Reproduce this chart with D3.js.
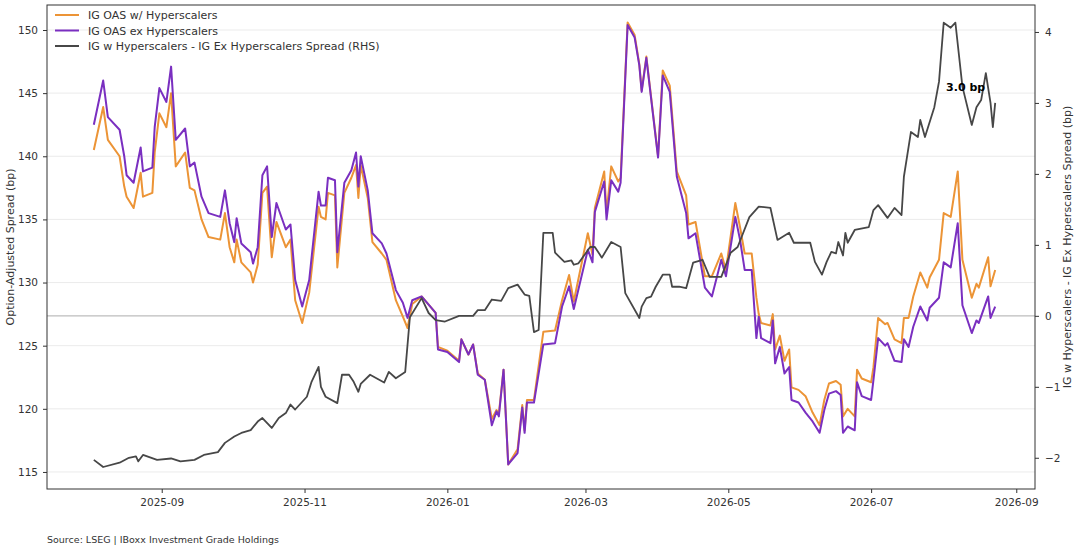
<!DOCTYPE html>
<html>
<head>
<meta charset="utf-8">
<script src="https://cdn.jsdelivr.net/npm/d3@7"></script>
<style>
  body { margin: 0; background: #fff; font-family: "DejaVu Sans", sans-serif; }
  text { font-family: "DejaVu Sans", sans-serif; }
</style>
</head>
<body>
<script>
// IG OAS with / ex hyperscalers (left axis, bp)
let oasDates = ["2025-08-03","2025-08-07","2025-08-09","2025-08-14","2025-08-16","2025-08-17","2025-08-20","2025-08-23","2025-08-24","2025-08-28","2025-08-29","2025-08-31",
  "2025-09-03","2025-09-05","2025-09-07","2025-09-11","2025-09-13","2025-09-15","2025-09-18","2025-09-21","2025-09-26","2025-09-28","2025-09-30",
  "2025-10-02","2025-10-03","2025-10-05","2025-10-09","2025-10-10","2025-10-12","2025-10-14","2025-10-16","2025-10-18","2025-10-20","2025-10-24","2025-10-26","2025-10-28","2025-10-31",
  "2025-11-03","2025-11-07","2025-11-08","2025-11-10","2025-11-11","2025-11-14","2025-11-15","2025-11-18","2025-11-21","2025-11-23","2025-11-24","2025-11-25","2025-11-28","2025-11-30",
  "2025-12-04","2025-12-06","2025-12-10","2025-12-13","2025-12-15","2025-12-17","2025-12-21","2025-12-27","2025-12-28",
  "2026-01-01","2026-01-06","2026-01-07","2026-01-10","2026-01-12","2026-01-14","2026-01-17","2026-01-20","2026-01-22","2026-01-23","2026-01-25","2026-01-27","2026-01-31",
  "2026-02-02","2026-02-03","2026-02-04","2026-02-07","2026-02-11","2026-02-16","2026-02-19","2026-02-22","2026-02-24",
  "2026-03-02","2026-03-04","2026-03-05","2026-03-09","2026-03-10","2026-03-12","2026-03-15","2026-03-16","2026-03-19","2026-03-22","2026-03-24","2026-03-25","2026-03-27",
  "2026-04-01","2026-04-03","2026-04-06","2026-04-09","2026-04-13","2026-04-14","2026-04-17","2026-04-21","2026-04-24","2026-04-28","2026-04-30",
  "2026-05-04","2026-05-06","2026-05-08","2026-05-11","2026-05-13","2026-05-14","2026-05-15","2026-05-19","2026-05-20","2026-05-21","2026-05-23","2026-05-25","2026-05-27","2026-05-28","2026-05-31",
  "2026-06-03","2026-06-06","2026-06-09","2026-06-11","2026-06-13","2026-06-16","2026-06-18","2026-06-19","2026-06-21","2026-06-24","2026-06-25","2026-06-27",
  "2026-07-01","2026-07-02","2026-07-04","2026-07-07","2026-07-08","2026-07-11","2026-07-14","2026-07-15","2026-07-17","2026-07-19","2026-07-22","2026-07-25","2026-07-26","2026-07-30",
  "2026-08-01","2026-08-04","2026-08-07","2026-08-09","2026-08-13","2026-08-15","2026-08-16","2026-08-20","2026-08-21","2026-08-23"];

let oasEx = [142.5,146.0,143.1,142.1,140.0,138.5,137.9,140.7,138.8,139.1,142.3,145.4,
  144.3,147.1,141.3,142.2,139.2,139.5,136.8,135.5,135.2,137.3,134.7,
  133.2,135.1,133.1,132.4,131.5,132.8,138.5,139.2,133.6,136.3,134.2,134.6,130.2,128.1,
  130.2,137.2,136.1,136.1,138.3,138.1,132.4,137.9,138.9,140.3,137.6,140.0,137.3,133.9,
  133.1,132.3,129.4,128.4,127.2,128.6,128.9,127.6,124.7,
  124.5,123.7,125.5,124.3,125.1,122.7,122.3,118.7,119.8,119.4,123.1,115.6,116.5,
  120.1,118.1,120.5,120.5,125.1,125.2,128.1,129.7,127.9,
  132.6,131.6,135.6,138.0,135.0,138.1,137.2,137.9,150.4,149.4,147.2,145.1,147.8,
  139.9,146.4,145.1,138.4,135.5,133.5,133.9,129.6,128.9,131.8,130.5,
  135.2,133.4,131.0,131.0,125.6,127.3,125.6,125.2,127.0,123.6,124.9,122.8,123.3,120.7,120.5,
  119.7,119.0,118.1,119.9,121.2,121.4,121.1,118.1,118.6,118.3,122.1,121.0,
  120.7,122.3,125.6,125.0,125.2,123.8,123.7,125.5,124.9,126.5,128.1,127.0,128.0,128.8,
  131.6,131.2,134.7,128.2,126.0,127.0,126.8,128.9,127.2,128.1];

let oasWith = [140.5,143.9,141.3,140.0,137.6,136.8,135.9,138.7,136.8,137.1,140.3,143.4,
  142.3,145.0,139.2,140.3,137.5,137.3,135.0,133.6,133.4,135.5,132.8,
  131.6,133.4,131.6,130.8,130.0,131.4,137.1,137.6,132.0,134.8,132.8,133.4,128.6,126.8,
  129.2,136.0,135.2,135.0,137.1,136.9,131.2,137.1,138.3,139.3,136.7,139.3,136.7,133.2,
  132.3,131.8,128.6,127.3,126.4,128.3,128.9,127.6,124.9,
  124.6,123.8,125.5,124.3,125.1,122.8,122.3,119.2,119.9,119.6,123.1,115.6,116.8,
  120.3,118.3,120.7,120.7,126.1,126.2,128.6,130.6,128.5,
  133.9,132.2,135.9,138.8,135.5,139.2,138.0,138.3,150.6,149.6,147.3,145.2,147.9,
  140.0,146.8,145.6,138.8,136.9,134.6,134.8,130.5,130.5,132.3,131.0,
  136.3,134.4,132.3,132.3,128.8,127.5,126.8,126.6,127.5,124.7,125.8,123.8,124.7,121.7,121.5,
  121.0,119.7,118.7,120.7,122.0,122.2,121.9,119.4,120.0,119.4,123.1,122.4,
  122.1,123.3,127.2,126.7,126.8,125.5,125.2,127.2,127.2,128.9,130.8,129.6,130.4,131.8,
  135.5,135.2,138.8,131.8,128.8,129.9,129.6,132.0,129.7,131.0];

// Difference series (right axis, bp)
let diffDates = ["2025-08-03","2025-08-07","2025-08-14","2025-08-18","2025-08-21","2025-08-22","2025-08-24","2025-08-30",
  "2025-09-05","2025-09-09","2025-09-15","2025-09-19","2025-09-25","2025-09-28",
  "2025-10-02","2025-10-05","2025-10-09","2025-10-12","2025-10-14","2025-10-18","2025-10-21","2025-10-24","2025-10-26","2025-10-28",
  "2025-11-02","2025-11-04","2025-11-07","2025-11-08","2025-11-10","2025-11-15","2025-11-17","2025-11-20","2025-11-22","2025-11-24","2025-11-25","2025-11-29",
  "2025-12-05","2025-12-07","2025-12-10","2025-12-14","2025-12-16","2025-12-21","2025-12-24","2025-12-27","2025-12-31",
  "2026-01-06","2026-01-12","2026-01-14","2026-01-17","2026-01-20","2026-01-24","2026-01-27","2026-01-31",
  "2026-02-03","2026-02-05","2026-02-07","2026-02-09","2026-02-11","2026-02-15","2026-02-16","2026-02-20","2026-02-23","2026-02-24","2026-02-26",
  "2026-03-03","2026-03-05","2026-03-08","2026-03-12","2026-03-16","2026-03-18","2026-03-24","2026-03-25","2026-03-27","2026-03-29","2026-03-31",
  "2026-04-03","2026-04-06","2026-04-07","2026-04-10","2026-04-13","2026-04-16","2026-04-20","2026-04-23","2026-04-28",
  "2026-05-02","2026-05-05","2026-05-10","2026-05-14","2026-05-19","2026-05-22","2026-05-27","2026-05-29",
  "2026-06-05","2026-06-07","2026-06-10","2026-06-12","2026-06-14","2026-06-16","2026-06-17","2026-06-19","2026-06-20","2026-06-21","2026-06-24","2026-06-30",
  "2026-07-02","2026-07-04","2026-07-08","2026-07-11","2026-07-14","2026-07-15","2026-07-18","2026-07-21","2026-07-22","2026-07-24","2026-07-28","2026-07-30",
  "2026-08-01","2026-08-04","2026-08-06","2026-08-09","2026-08-13","2026-08-15","2026-08-17","2026-08-19","2026-08-21","2026-08-22","2026-08-23"];

let diffVals = [-2.03,-2.13,-2.07,-2.0,-1.98,-2.05,-1.96,-2.03,
  -2.01,-2.05,-2.03,-1.96,-1.92,-1.79,
  -1.70,-1.65,-1.61,-1.49,-1.44,-1.58,-1.44,-1.37,-1.25,-1.32,
  -1.14,-0.93,-0.72,-1.0,-1.14,-1.23,-0.83,-0.83,-0.93,-1.07,-0.96,-0.83,
  -0.94,-0.79,-0.88,-0.79,-0.02,0.25,0.04,-0.06,-0.08,
  0.0,0.0,0.08,0.08,0.23,0.21,0.39,0.44,
  0.30,0.28,-0.23,-0.2,1.17,1.17,0.89,0.76,0.78,0.72,0.74,
  0.97,0.97,0.82,1.04,0.97,0.32,-0.03,0.13,0.25,0.27,0.41,
  0.58,0.58,0.41,0.41,0.39,0.75,0.79,0.55,0.55,
  0.89,0.97,1.39,1.54,1.52,1.07,1.17,1.03,
  1.03,0.76,0.58,0.76,0.90,0.88,1.04,0.85,1.17,1.03,1.21,1.25,
  1.49,1.56,1.38,1.52,1.42,1.96,2.59,2.52,2.76,2.52,2.94,3.30,
  4.13,4.06,4.13,3.23,2.69,2.94,3.04,3.42,3.0,2.66,3.0];

let leftTicks = [115, 120, 125, 130, 135, 140, 145, 150];
let rightTicks = [-2, -1, 0, 1, 2, 3, 4];
let xTicks = ["2025-09-01","2025-11-01","2026-01-01","2026-03-01","2026-05-01","2026-07-01","2026-09-01"];
let seriesNames = ["IG OAS w/ Hyperscalers", "IG OAS ex Hyperscalers", "IG w Hyperscalers - IG Ex Hyperscalers Spread (RHS)"];
let colors = ["#ec9436", "#7a2fc0", "#474747"];

let w = 1080, h = 551;
let mLeft = 47, mRight = 1035, mTop = 5, mBottom = 489;
let parse = d3.timeParse("%Y-%m-%d");

let svg = d3.select("body").append("svg").attr("width", w).attr("height", h);

let xScale = d3.scaleTime()
  .domain([parse("2025-07-14"), parse("2026-09-09")])
  .range([mLeft, mRight]);
let yL = d3.scaleLinear().domain([113.65, 151.98]).range([mBottom, mTop]);
let yR = d3.scaleLinear().domain([-2.44, 4.38]).range([mBottom, mTop]);

// grid lines
svg.append("g").selectAll("line").data(leftTicks).enter().append("line")
  .attr("x1", mLeft).attr("x2", mRight)
  .attr("y1", d => yL(d)).attr("y2", d => yL(d))
  .attr("stroke", "#e6e6e6").attr("stroke-width", 0.8);

// zero line on RHS
svg.append("line")
  .attr("x1", mLeft).attr("x2", mRight)
  .attr("y1", yR(0)).attr("y2", yR(0))
  .attr("stroke", "#bdbdbd").attr("stroke-width", 1.2);

let lineL = (dates, vals) => d3.line().x((d, i) => xScale(parse(dates[i]))).y(d => yL(d))(vals);
let lineR = d3.line().x((d, i) => xScale(parse(diffDates[i]))).y(d => yR(d));

svg.append("path").attr("d", lineL(oasDates, oasWith))
  .attr("fill", "none").attr("stroke", colors[0]).attr("stroke-width", 2).attr("stroke-linejoin", "round");
svg.append("path").attr("d", lineL(oasDates, oasEx))
  .attr("fill", "none").attr("stroke", colors[1]).attr("stroke-width", 2).attr("stroke-linejoin", "round");
svg.append("path").attr("d", lineR(diffVals))
  .attr("fill", "none").attr("stroke", colors[2]).attr("stroke-width", 1.8).attr("stroke-linejoin", "round");

// annotation
let lastI = diffVals.length - 1;
svg.append("text")
  .attr("x", xScale(parse(diffDates[lastI])) - 10)
  .attr("y", yR(diffVals[lastI]) - 12)
  .attr("text-anchor", "end")
  .style("font-size", "11px").style("font-weight", "bold")
  .text(diffVals[lastI].toFixed(1) + " bp");

// axes
let xAxis = d3.axisBottom(xScale)
  .tickValues(xTicks.map(parse))
  .tickFormat(d3.timeFormat("%Y-%m")).tickSize(4).tickPadding(6);
let gx = svg.append("g").attr("transform", "translate(0," + mBottom + ")").call(xAxis);

let gl = svg.append("g").attr("transform", "translate(" + mLeft + ",0)")
  .call(d3.axisLeft(yL).tickValues(leftTicks).tickSize(4).tickPadding(5));
let gr = svg.append("g").attr("transform", "translate(" + mRight + ",0)")
  .call(d3.axisRight(yR).tickValues(rightTicks).tickFormat(d3.format("d")).tickSize(4).tickPadding(6));

[gx, gl, gr].forEach(g => {
  g.selectAll("text").style("font-size", "10.5px").attr("fill", "#333");
  g.selectAll("line").attr("stroke", "#333");
  g.select(".domain").remove();
});

// frame
svg.append("rect").attr("x", mLeft).attr("y", mTop)
  .attr("width", mRight - mLeft).attr("height", mBottom - mTop)
  .attr("fill", "none").attr("stroke", "#333").attr("stroke-width", 1);

// axis titles
svg.append("text")
  .attr("transform", "translate(14," + (mTop + mBottom) / 2 + ") rotate(-90)")
  .attr("text-anchor", "middle").style("font-size", "11px").attr("fill", "#333")
  .text("Option-Adjusted Spread (bp)");
svg.append("text")
  .attr("transform", "translate(1071," + (mTop + mBottom) / 2 + ") rotate(-90)")
  .attr("text-anchor", "middle").style("font-size", "11px").attr("fill", "#333")
  .text("IG w Hyperscalers - IG Ex Hyperscalers Spread (bp)");

// legend
let lg = svg.append("g").attr("transform", "translate(55,15)");
seriesNames.forEach((name, i) => {
  lg.append("line").attr("x1", 0).attr("x2", 24).attr("y1", i * 15.5).attr("y2", i * 15.5)
    .attr("stroke", colors[i]).attr("stroke-width", 2);
  lg.append("text").attr("x", 33).attr("y", i * 15.5 + 4)
    .style("font-size", "11px").attr("fill", "#333").text(name);
});

svg.append("text").attr("x", 47).attr("y", 543)
  .style("font-size", "9.5px").attr("fill", "#333")
  .text("Source: LSEG | IBoxx Investment Grade Holdings");
</script>
</body>
</html>
